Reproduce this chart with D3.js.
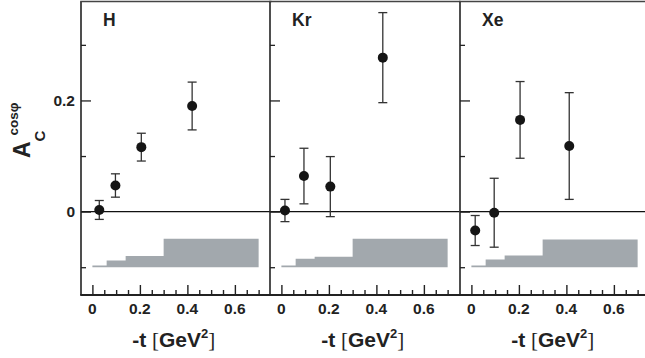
<!DOCTYPE html>
<html><head><meta charset="utf-8">
<script src="https://cdn.jsdelivr.net/npm/d3@7"></script>
<style>
body{margin:0;background:#fff;}
svg{display:block;font-family:"Liberation Sans",Arial,Helvetica,sans-serif;}
</style></head>
<body>
<script>
// ---- data ----
const panelNames = ["H", "Kr", "Xe"];
const tValues = {
  H:  [0.029, 0.097, 0.206, 0.420],
  Kr: [0.015, 0.095, 0.206, 0.427],
  Xe: [0.016, 0.096, 0.205, 0.412]
};
const asymValues = {
  H:  [0.003, 0.047, 0.116, 0.190],
  Kr: [0.002, 0.064, 0.045, 0.277],
  Xe: [-0.034, -0.002, 0.165, 0.118]
};
const asymErrors = {
  H:  [0.017, 0.021, 0.025, 0.043],
  Kr: [0.020, 0.050, 0.054, 0.081],
  Xe: [0.027, 0.062, 0.069, 0.096]
};
const bandEdges = [0, 0.06, 0.14, 0.30, 0.70];
const bandBase = -0.1;
const bandTops = {
  H:  [-0.097, -0.088, -0.080, -0.049],
  Kr: [-0.097, -0.085, -0.081, -0.049],
  Xe: [-0.097, -0.086, -0.079, -0.050]
};
const xMajorTicks = [0, 0.2, 0.4, 0.6];
const xMinorTicks = [0.05, 0.1, 0.15, 0.25, 0.3, 0.35, 0.45, 0.5, 0.55, 0.65, 0.7];
const yMajorTicks = [0, 0.2];
const yMinorTicks = [-0.1, 0.1, 0.3];
const yTickLabels = ["0", "0.2"];

// ---- layout ----
const W = 645, H = 358;
const plotTop = 1.5, plotBottom = 295;
const panelLeft = [81, 270, 460];
const panelW = 189.5;

const svg = d3.select("body").append("svg").attr("width", W).attr("height", H);

const y = d3.scaleLinear().domain([-0.15, 0.378]).range([plotBottom, plotTop]);

panelNames.forEach((name, i) => {
  const L = panelLeft[i];
  const x = d3.scaleLinear().domain([-0.048, 0.75]).range([L, L + panelW]);
  const g = svg.append("g");

  // band (step area)
  const tops = bandTops[name];
  const pts = [];
  tops.forEach((v, k) => {
    pts.push([bandEdges[k], v]);
    pts.push([bandEdges[k + 1], v]);
  });
  const area = d3.area()
    .x(d => x(d[0])).y0(y(bandBase)).y1(d => y(d[1]));
  g.append("path").datum(pts).attr("d", area).attr("fill", "#a2a8ad");

  // zero line
  g.append("line").attr("x1", L).attr("x2", Math.min(L + panelW, W))
    .attr("y1", y(0)).attr("y2", y(0)).attr("stroke", "#111").attr("stroke-width", 1.2);

  // frame
  g.append("line").attr("x1", L).attr("x2", L).attr("y1", plotTop).attr("y2", plotBottom)
    .attr("stroke", "#222").attr("stroke-width", 1.6);
  g.append("line").attr("x1", L - 0.8).attr("x2", L + panelW + 1).attr("y1", plotBottom).attr("y2", plotBottom)
    .attr("stroke", "#222").attr("stroke-width", 2);
  g.append("line").attr("x1", L - 0.8).attr("x2", L + panelW + 1).attr("y1", plotTop).attr("y2", plotTop)
    .attr("stroke", "#444").attr("stroke-width", 1.5);

  // x ticks
  const xAxisMajor = d3.axisTop(x).tickValues(xMajorTicks).tickSize(10).tickFormat("");
  const xAxisMinor = d3.axisTop(x).tickValues(xMinorTicks).tickSize(5).tickFormat("");
  [xAxisMajor, xAxisMinor].forEach(ax => {
    const a = g.append("g").attr("transform", `translate(0,${plotBottom})`).call(ax);
    a.select(".domain").remove();
    a.selectAll(".tick line").attr("stroke", "#222").attr("stroke-width", 1.4);
  });
  // x tick labels
  g.selectAll(".xl").data(xMajorTicks).enter().append("text")
    .attr("x", d => x(d)).attr("y", 313.5).attr("text-anchor", "middle")
    .attr("font-size", 15.5).attr("font-weight", "bold").attr("fill", "#222")
    .text(d => d === 0 ? "0" : d3.format(".1f")(d));

  // y ticks (inward)
  const yAxisMajor = d3.axisRight(y).tickValues(yMajorTicks).tickSize(10).tickFormat("");
  const yAxisMinor = d3.axisRight(y).tickValues(yMinorTicks).tickSize(5).tickFormat("");
  [yAxisMajor, yAxisMinor].forEach(ax => {
    const a = g.append("g").attr("transform", `translate(${L},0)`).call(ax);
    a.select(".domain").remove();
    a.selectAll(".tick line").attr("stroke", "#222").attr("stroke-width", 1.3);
  });

  // error bars & points
  const data = tValues[name].map((t, k) => ({t, v: asymValues[name][k], e: asymErrors[name][k]}));
  const cap = 4.5;
  data.forEach(d => {
    const cx = x(d.t);
    g.append("line").attr("x1", cx).attr("x2", cx).attr("y1", y(d.v + d.e)).attr("y2", y(d.v - d.e))
      .attr("stroke", "#333").attr("stroke-width", 1.3);
    [d.v + d.e, d.v - d.e].forEach(vv => {
      g.append("line").attr("x1", cx - cap).attr("x2", cx + cap).attr("y1", y(vv)).attr("y2", y(vv))
        .attr("stroke", "#333").attr("stroke-width", 1.3);
    });
    g.append("circle").attr("cx", cx).attr("cy", y(d.v)).attr("r", 5).attr("fill", "#151515");
  });

  // panel label
  g.append("text").attr("x", L + 22).attr("y", 25.5).attr("font-size", 17.5)
    .attr("font-weight", "bold").attr("fill", "#222").text(name);

  // x title
  const xt = g.append("text").attr("x", L + panelW / 2 - 2).attr("y", 347)
    .attr("text-anchor", "middle").attr("font-size", 21).attr("font-weight", "bold").attr("fill", "#222");
  xt.append("tspan").text("-t ");
  xt.append("tspan").attr("font-weight", "normal").attr("font-family", "'Liberation Serif',serif").text("[");
  xt.append("tspan").text("GeV");
  xt.append("tspan").attr("font-size", 13).attr("dy", -9).text("2");
  xt.append("tspan").attr("dy", 9).attr("font-weight", "normal").attr("font-family", "'Liberation Serif',serif").text("]");
});

// y tick labels
svg.selectAll(".yl").data(yMajorTicks).enter().append("text")
  .attr("x", 75).attr("y", d => y(d) + 5.5).attr("text-anchor", "end")
  .attr("font-size", 15.5).attr("font-weight", "bold").attr("fill", "#222")
  .text((d, i) => yTickLabels[i]);

// y title
const yt = svg.append("text").attr("transform", "translate(29.5,158) rotate(-90)")
  .attr("font-size", 23).attr("font-weight", "bold").attr("fill", "#222");
yt.append("tspan").text("A");
yt.append("tspan").attr("font-size", 15).attr("dy", 15.5).text("C");
yt.append("tspan").attr("font-size", 13.5).attr("dy", -27).attr("dx", -5).text("cosφ");
</script>
</body></html>
